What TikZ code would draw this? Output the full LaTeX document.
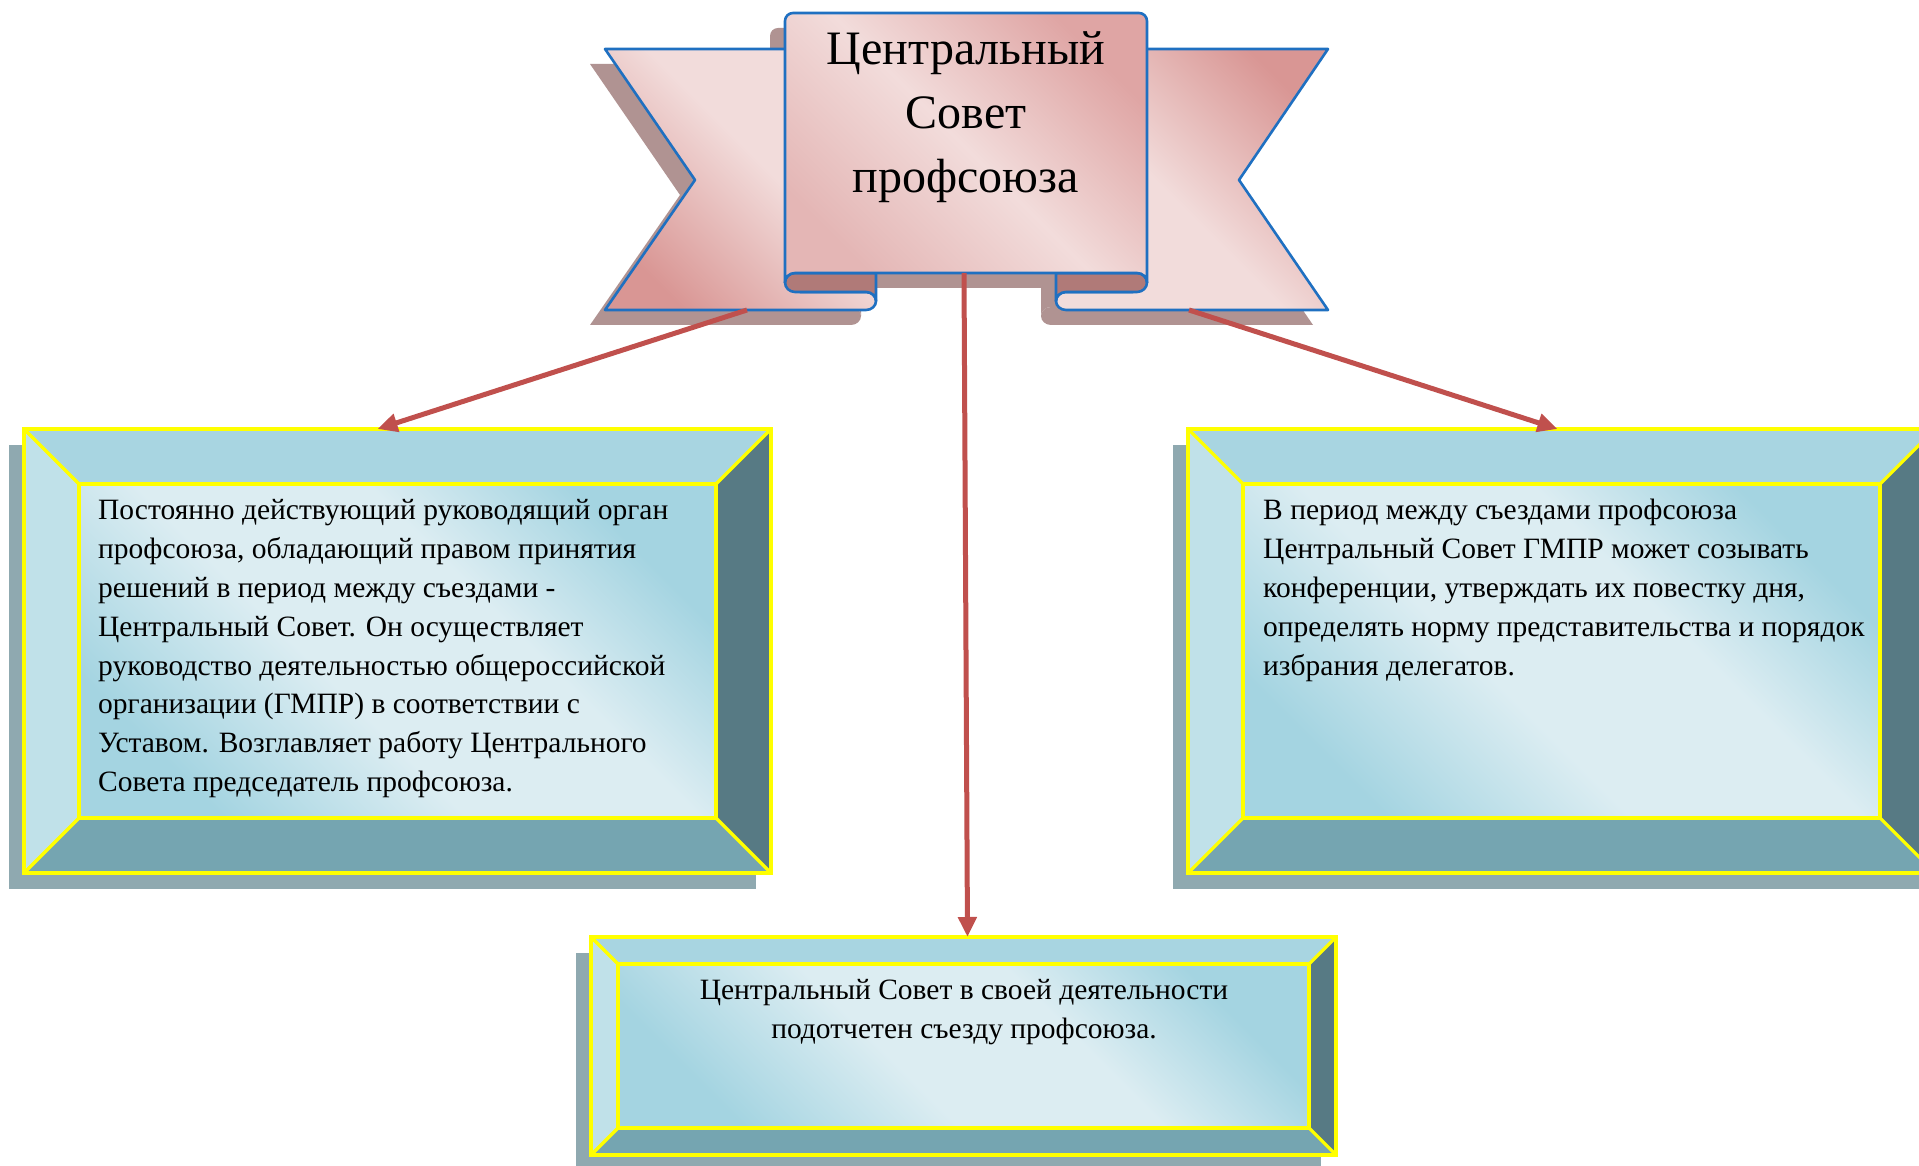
\documentclass[tikz,border=0pt]{standalone}
\usepackage{fontspec}
\setmainfont{Liberation Serif}
\usepackage{tikz}
\usetikzlibrary{calc,arrows.meta}
\definecolor{ribdk}{HTML}{D99694}
\definecolor{ribmd}{HTML}{E4B6B5}
\definecolor{ribup}{HTML}{DFA5A4}
\definecolor{riblt}{HTML}{F2DCDB}
\definecolor{ribroll}{HTML}{B07A78}
\definecolor{ribshade}{HTML}{B09392}
\definecolor{ribedge}{HTML}{1F70C1}
\definecolor{arrowred}{HTML}{C0504D}
\definecolor{bvtop}{HTML}{A8D5E1}
\definecolor{bvleft}{HTML}{C0E1E9}
\definecolor{bvbot}{HTML}{75A5B1}
\definecolor{bvright}{HTML}{577A84}
\definecolor{bvshade}{HTML}{8FA9B0}
\definecolor{facedk}{HTML}{A4D4E1}
\definecolor{facelt}{HTML}{DCEDF2}
\definecolor{rimyellow}{HTML}{FFFF00}
\pgfdeclareverticalshading{faceshade}{100bp}{color(0bp)=(facedk); color(25bp)=(facedk); color(43bp)=(facelt); color(60bp)=(facelt); color(75bp)=(facedk); color(100bp)=(facedk)}
\pgfdeclareverticalshading{wingshade}{100bp}{color(0bp)=(ribdk); color(25bp)=(ribdk); color(55bp)=(riblt); color(100bp)=(riblt)}
\pgfdeclareverticalshading{panelshade}{100bp}{color(0bp)=(ribmd); color(25bp)=(ribmd); color(50bp)=(riblt); color(75bp)=(ribup); color(100bp)=(ribup)}
\tikzset{
  rib/.style={draw=ribedge, line width=2.6pt, line join=round},
  slab/.style={inner sep=0pt, outer sep=0pt},
  bevel/.style={draw=rimyellow, line width=3.2pt, line join=miter},
  face/.style={shading=faceshade, shading angle=-45},
  link/.style={draw=arrowred, line width=5pt, -{Triangle[length=20pt,width=18pt]}},
  bodytext/.style={font=\fontsize{29.5}{38.8}\selectfont, align=left, inner sep=0pt, anchor=base west},
  titletext/.style={font=\fontsize{48}{64}\selectfont, align=center, inner sep=0pt, anchor=base},
}
% ribbon parts, y up, 1pt = 1px
\newcommand\wingLeft{(605,1116) -- (695,985) -- (605,855) -- (866,855) arc[start angle=-90,end angle=90,x radius=10,y radius=9] -- (800,873) -- (800,1116) -- cycle}
\newcommand\wingRight{(1328,1116) -- (1239,985) -- (1328,855) -- (1066,855) arc[start angle=270,end angle=90,x radius=10,y radius=9] -- (1133,873) -- (1133,1116) -- cycle}
\newcommand\rollLeft{(795,892) -- (876,892) -- (876,864) arc[start angle=0,end angle=90,x radius=10,y radius=9] -- (795,873) arc[start angle=270,end angle=90,x radius=10,y radius=9.5] -- cycle}
\newcommand\rollRight{(1137,892) -- (1056,892) -- (1056,864) arc[start angle=180,end angle=90,x radius=10,y radius=9] -- (1137,873) arc[start angle=-90,end angle=90,x radius=10,y radius=9.5] -- cycle}
\newcommand\scrollPanel{(785,882.5) -- (785,1144) arc[start angle=180,end angle=90,radius=8] -- (1139,1152) arc[start angle=90,end angle=0,radius=8] -- (1147,882.5) arc[start angle=0,end angle=90,x radius=10,y radius=9.5] -- (795,892) arc[start angle=90,end angle=180,x radius=10,y radius=9.5] -- cycle}

\begin{document}
\begin{tikzpicture}[x=1pt,y=1pt]
  \useasboundingbox (0,0) rectangle (1919,1165);

  % ribbon shadow
  \begin{scope}[shift={(-15,-15)}]
    \fill[ribshade] \wingLeft;
    \fill[ribshade] \wingRight;
    \fill[ribshade] \rollLeft;
    \fill[ribshade] \rollRight;
    \fill[ribshade] \scrollPanel;
  \end{scope}

  % ribbon
  \path[rib, shading=wingshade, shading angle=-45] \wingLeft;
  \path[rib, shading=wingshade, shading angle=135] \wingRight;
  \path[rib, fill=ribroll] \rollLeft;
  \path[rib, fill=ribroll] \rollRight;
  \path[rib, shading=panelshade, shading angle=-45] \scrollPanel;
  \node[titletext] (title) at (966,972) {Центральный\\Совет\\профсоюза};
  \coordinate (ribL) at (747,855);
  \coordinate (ribM) at (964,892);
  \coordinate (ribR) at (1189,855);

  % boxes
  \node[slab, minimum width=747pt, minimum height=444pt] (boxL) at (397.5,514) {};
  \node[slab, minimum width=747pt, minimum height=444pt] (boxR) at (1561.5,514) {};
  \node[slab, minimum width=745pt, minimum height=218pt] (boxB) at (963.5,119) {};

  \foreach \b/\d in {boxL/55,boxR/55,boxB/27}{
    \fill[bvshade] ([shift={(-15,-16)}]\b.south west) rectangle ([shift={(-15,-16)}]\b.north east);
    \fill[bvtop] (\b.north west) -- (\b.north east) -- ([shift={(-\d,-\d)}]\b.north east) -- ([shift={(\d,-\d)}]\b.north west) -- cycle;
    \fill[bvleft] (\b.north west) -- ([shift={(\d,-\d)}]\b.north west) -- ([shift={(\d,\d)}]\b.south west) -- (\b.south west) -- cycle;
    \fill[bvbot] (\b.south west) -- ([shift={(\d,\d)}]\b.south west) -- ([shift={(-\d,\d)}]\b.south east) -- (\b.south east) -- cycle;
    \fill[bvright] (\b.south east) -- ([shift={(-\d,\d)}]\b.south east) -- ([shift={(-\d,-\d)}]\b.north east) -- (\b.north east) -- cycle;
    \shade[face] ([shift={(\d,\d)}]\b.south west) rectangle ([shift={(-\d,-\d)}]\b.north east);
    \draw[bevel] (\b.south west) rectangle (\b.north east);
    \draw[bevel] ([shift={(\d,\d)}]\b.south west) rectangle ([shift={(-\d,-\d)}]\b.north east);
    \draw[bevel] (\b.north west) -- ([shift={(\d,-\d)}]\b.north west);
    \draw[bevel] (\b.north east) -- ([shift={(-\d,-\d)}]\b.north east);
    \draw[bevel] (\b.south west) -- ([shift={(\d,\d)}]\b.south west);
    \draw[bevel] (\b.south east) -- ([shift={(-\d,\d)}]\b.south east);
  }

  % texts (base = last line)
  \node[bodytext] (txtL) at (98,373.4) {Постоянно действующий руководящий орган\\профсоюза, обладающий правом принятия\\решений в период между съездами -\\Центральный Совет. Он осуществляет\\руководство деятельностью общероссийской\\организации (ГМПР) в соответствии с\\Уставом. Возглавляет работу Центрального\\Совета председатель профсоюза.};
  \node[bodytext] (txtR) at (1263,489.8) {В период между съездами профсоюза\\Центральный Совет ГМПР может созывать\\конференции, утверждать их повестку дня,\\определять норму представительства и порядок\\избрания делегатов.};
  \node[bodytext, align=center, anchor=base] (txtB) at (964,127) {Центральный Совет в своей деятельности\\подотчетен съезду профсоюза.};

  % arrows
  \draw[link] (ribL) -- ([xshift=-20pt]boxL.north);
  \draw[link] (ribM) -- ([xshift=4pt]boxB.north);
  \draw[link] (ribR) -- ([xshift=-4pt]boxR.north);
\end{tikzpicture}
\end{document}
